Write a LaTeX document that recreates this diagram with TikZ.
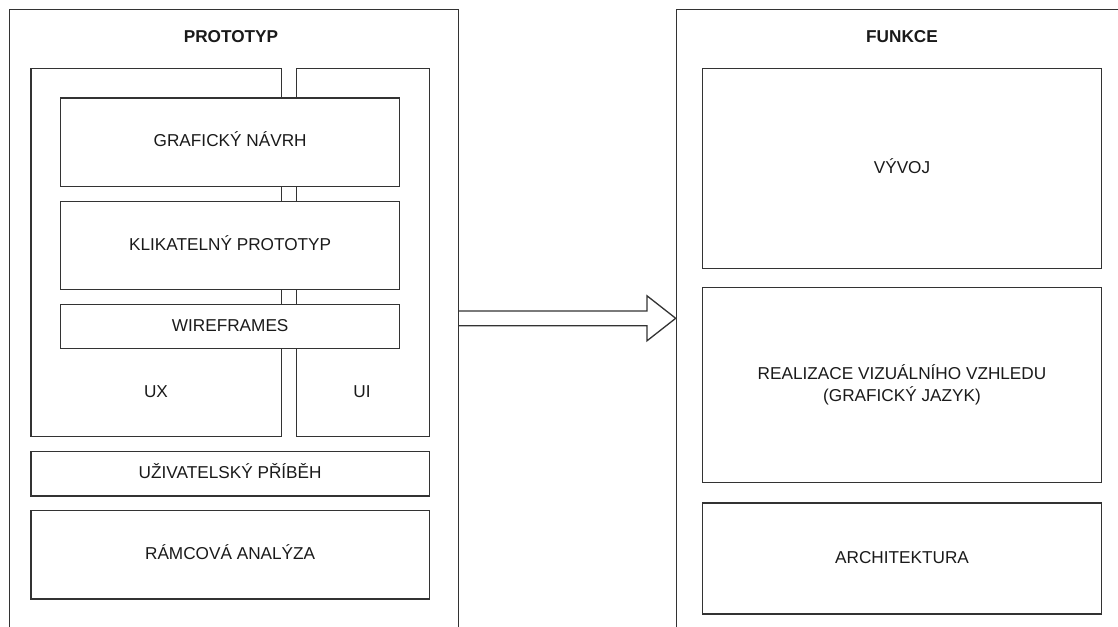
\documentclass[tikz,border=0pt]{standalone}
\usepackage{fontspec}
\setmainfont{Liberation Sans}
\usetikzlibrary{calc}
\definecolor{edge}{HTML}{333333}
\definecolor{ink}{HTML}{1A1A1A}
\tikzset{
  plainbox/.style={draw=edge, line width=1.3pt, fill=white, inner sep=0pt,
              anchor=north west, text=ink, align=center,
              font=\fontsize{17.2}{22.3}\selectfont},
  box/.style={plainbox, text height=12.3pt, text depth=3pt},
  frame/.style={plainbox, fill=none},
  title/.style={text=ink, font=\fontsize{17.2}{20}\selectfont\bfseries},
  label/.style={text=ink, font=\fontsize{17.2}{20}\selectfont},
  blockarrow/.style={draw=edge, line width=1.3pt, fill=white, line join=miter},
}
\begin{document}
\begin{tikzpicture}[x=1pt,y=-1pt]
\clip (0,0) rectangle (1118,626);
\fill[white] (0,0) rectangle (1118,626);

% outer frames (they run past the lower and right edges)
\node[frame, minimum width=449.2pt, minimum height=700pt] (proto) at (8.5,9) {};
\node[frame, minimum width=500pt, minimum height=700pt] (funkce) at (675.7,9) {};

% UX / UI columns
\node[frame, minimum width=250.7pt, minimum height=368pt] (ux) at (30.3,68) {};
\node[frame, minimum width=133pt, minimum height=368pt] (ui) at (295.7,68) {};
\node[label] (uxl) at (156,392) {UX};
\node[label] (uil) at (362,392) {UI};

% layers spanning both columns
\node[box, minimum width=339pt, minimum height=88.4pt] (graf) at (60,97.3) {GRAFICKÝ NÁVRH};
\node[box, minimum width=339pt, minimum height=88.3pt] (klik) at (60,200.7) {KLIKATELNÝ PROTOTYP};
\node[box, minimum width=339pt, minimum height=43.7pt] (wire) at (60,304) {WIREFRAMES};

\node[box, minimum width=398.4pt, minimum height=44.3pt] (pribeh) at (30.3,451) {UŽIVATELSKÝ PŘÍBĚH};
\node[box, minimum width=398.4pt, minimum height=88.6pt] (analyza) at (30.3,509.7) {RÁMCOVÁ ANALÝZA};

% right column
\node[box, minimum width=398.7pt, minimum height=200.5pt] (vyvoj) at (702,67.5) {VÝVOJ};
\node[plainbox, minimum width=398.7pt, minimum height=195pt] (vzhled) at (702,287) {REALIZACE VIZUÁLNÍHO VZHLEDU\\(GRAFICKÝ JAZYK)};
\node[box, minimum width=398.7pt, minimum height=111pt] (arch) at (702,502.3) {ARCHITEKTURA};

% titles
\node[title] (tproto) at (231,37) {PROTOTYP};
\node[title] (tfunkce) at (vyvoj.north |- 0,37) {FUNKCE};

% block arrow from one frame to the other
\coordinate (tail) at (proto.east |- 0,318.3);
\coordinate (tip) at (funkce.west |- 0,318.3);
\draw[blockarrow]
  ($(tail)+(0,-7.35)$) -- ($(tip)+(-28.7,-7.35)$) -- ($(tip)+(-28.7,-22.5)$)
  -- (tip) -- ($(tip)+(-28.7,22.5)$) -- ($(tip)+(-28.7,7.35)$)
  -- ($(tail)+(0,7.35)$);
\end{tikzpicture}
\end{document}
